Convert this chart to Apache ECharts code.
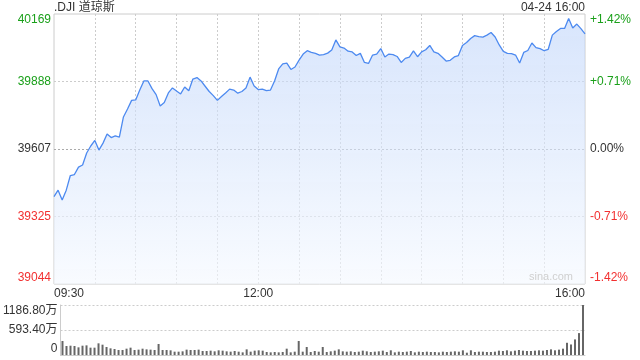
<!DOCTYPE html>
<html>
<head>
<meta charset="utf-8">
<script src="https://cdn.jsdelivr.net/npm/echarts@6/dist/echarts.min.js"></script>
<style>
  html, body { margin: 0; padding: 0; background: #fff; }
  #main { width: 640px; height: 360px; }
</style>
</head>
<body>
<div id="main"></div>
<script>
// DJI intraday, one point every 3 minutes from 09:30 to 16:00
var times = [];
for (var m = 0; m <= 390; m += 3) {
  var t = 9 * 60 + 30 + m;
  var hh = Math.floor(t / 60), mm = t % 60;
  times.push((hh < 10 ? '0' : '') + hh + ':' + (mm < 10 ? '0' : '') + mm);
}

var dji = [
  39408, 39435, 39394, 39435, 39496, 39500, 39531, 39540, 39590, 39619,
  39642, 39602, 39631, 39669, 39654, 39661, 39656, 39740, 39773, 39809,
  39811, 39852, 39890, 39890, 39858, 39833, 39786, 39800, 39840, 39861,
  39848, 39836, 39865, 39849, 39898, 39904, 39890, 39868, 39846, 39829,
  39809, 39825, 39840, 39856, 39852, 39839, 39846, 39861, 39906, 39869,
  39854, 39856, 39850, 39852, 39890, 39940, 39961, 39964, 39938, 39948,
  39977, 40002, 40016, 40009, 40005, 39998, 40000, 40006, 40019, 40061,
  40032, 40027, 40014, 40011, 39996, 40005, 39967, 39963, 39998, 40002,
  40025, 39990, 40002, 40000, 39992, 39967, 39984, 39989, 40015, 39991,
  40011, 40020, 40038, 40011, 40005, 39990, 39973, 39976, 39990, 39996,
  40038, 40050, 40067, 40079, 40075, 40073, 40081, 40092, 40073, 40040,
  40013, 40005, 40004, 39998, 39965, 40009, 40017, 40048, 40029, 40025,
  40016, 40022, 40081, 40096, 40109, 40109, 40150, 40111, 40127, 40108, 40086
];

// volume in 万
var vol = [
  332, 214, 221, 214, 182, 221, 229, 174, 174, 277,
  245, 190, 158, 142, 119, 119, 150, 174, 119, 127,
  150, 134, 127, 119, 261, 119, 119, 111, 79, 79,
  87, 127, 119, 119, 127, 95, 95, 103, 87, 111,
  103, 87, 79, 95,
  79, 63, 134, 79, 103, 111, 103, 71, 63, 71,
  63, 71, 150, 63, 79, 332, 79, 190, 71, 95,
  79, 190, 71, 87, 103, 134, 87, 79, 87, 71,
  79, 103, 87, 71, 79, 87, 103, 71, 111, 63,
  79, 71, 79, 95,
  63, 79, 71, 79, 71, 71, 63, 79, 71, 79,
  87, 79, 111, 55, 111, 71, 79, 79, 71, 71,
  79, 103, 95, 111, 87, 103, 119, 103, 95, 95,
  103, 111, 103, 119, 134, 111, 127, 150, 290, 250,
  370, 520, 1186.8
];

var leftTicks = ['39044', '39325', '39607', '39888', '40169'];
var rightTicks = ['-1.42%', '-0.71%', '0.00%', '+0.71%', '+1.42%'];
var tickColors = ['#f23030', '#f23030', '#333', '#1aa01a', '#1aa01a'];
var volMax = 1186.8;
var timeLabels = ['09:30', '12:00', '16:00'];

var base = 39606.5;
var half = 562.5;
var step = 281.25;
var FONT = '"Liberation Sans", Arial, "Noto Sans CJK SC", sans-serif';

function tickIndex(v) {
  return Math.round((parseFloat(v) + half) / step);
}

var chartDom = document.getElementById('main');
var myChart = echarts.init(chartDom);

var option = {
  animation: false,
  textStyle: { fontFamily: FONT },
  graphic: [
    { type: 'text', left: 54, top: 2, style: { text: '.DJI 道琼斯', fill: '#333', font: '12px ' + FONT } },
    { type: 'text', right: 55, top: 2, style: { text: '04-24 16:00', fill: '#333', font: '12px ' + FONT } },
    { type: 'text', right: 67, top: 271, z: 10, style: { text: 'sina.com', fill: '#d0d0d0', font: '11px ' + FONT } }
  ],
  grid: [
    { left: 54, right: 55, top: 14, height: 270, show: true, borderColor: '#ccc', borderWidth: 1 },
    { left: 54, right: 55, top: 305, height: 50 }
  ],
  xAxis: [
    {
      type: 'category',
      gridIndex: 0,
      data: times,
      boundaryGap: false,
      axisLine: { show: false },
      axisTick: { show: false },
      axisLabel: {
        color: '#333',
        fontSize: 12,
        margin: 4,
        interval: function (idx, val) { return timeLabels.indexOf(val) >= 0; },
        alignMinLabel: 'left',
        alignMaxLabel: 'right'
      },
      splitLine: {
        show: true,
        interval: function (idx) { return idx % 10 === 0 && idx > 0 && idx < times.length - 1; },
        lineStyle: { color: '#ccc', type: [2, 2] }
      }
    },
    {
      type: 'category',
      gridIndex: 1,
      data: times,
      boundaryGap: true,
      axisLine: { show: true, lineStyle: { color: '#ccc' } },
      axisTick: { show: false },
      axisLabel: { show: false },
      splitLine: { show: false }
    }
  ],
  yAxis: [
    {
      type: 'value',
      gridIndex: 0,
      min: -half,
      max: half,
      interval: step,
      axisLine: { show: false },
      axisTick: { show: false },
      axisLabel: {
        fontSize: 12,
        margin: 3,
        formatter: function (v) { return leftTicks[tickIndex(v)]; },
        color: function (v) { return tickColors[tickIndex(v)]; },
        verticalAlignMinLabel: 'bottom',
        verticalAlignMaxLabel: 'top'
      },
      splitLine: {
        lineStyle: { color: ['transparent', '#ccc', '#aaa', '#ccc', 'transparent'], type: [2, 2] }
      }
    },
    {
      type: 'value',
      gridIndex: 0,
      position: 'right',
      min: -half,
      max: half,
      interval: step,
      axisLine: { show: false },
      axisTick: { show: false },
      axisLabel: {
        fontSize: 12,
        margin: 5,
        formatter: function (v) { return rightTicks[tickIndex(v)]; },
        color: function (v) { return tickColors[tickIndex(v)]; },
        verticalAlignMinLabel: 'bottom',
        verticalAlignMaxLabel: 'top'
      },
      splitLine: { show: false }
    },
    {
      type: 'value',
      gridIndex: 1,
      min: 0,
      max: volMax,
      interval: volMax / 2,
      axisLine: { show: true, lineStyle: { color: '#ccc' } },
      axisTick: { show: false },
      axisLabel: {
        color: '#333',
        fontSize: 12,
        margin: 3,
        formatter: function (v) { return v === 0 ? '0' : v.toFixed(2) + '万'; },
        verticalAlignMinLabel: 'bottom',
        verticalAlignMaxLabel: 'top'
      },
      splitLine: { lineStyle: { color: '#ccc', type: [2, 2] } }
    }
  ],
  series: [
    {
      type: 'line',
      xAxisIndex: 0,
      yAxisIndex: 0,
      data: dji.map(function (v) { return v - base; }),
      showSymbol: false,
      smooth: false,
      lineStyle: { color: '#4d8af0', width: 1.3 },
      areaStyle: {
        color: new echarts.graphic.LinearGradient(0, 0, 0, 1, [
          { offset: 0, color: 'rgba(190,212,250,0.85)' },
          { offset: 1, color: 'rgba(245,249,255,0.9)' }
        ]),
        origin: 'start'
      }
    },
    {
      type: 'bar',
      xAxisIndex: 1,
      yAxisIndex: 2,
      data: vol,
      barWidth: 2,
      itemStyle: { color: '#666' }
    }
  ]
};

option && myChart.setOption(option);
</script>
</body>
</html>
